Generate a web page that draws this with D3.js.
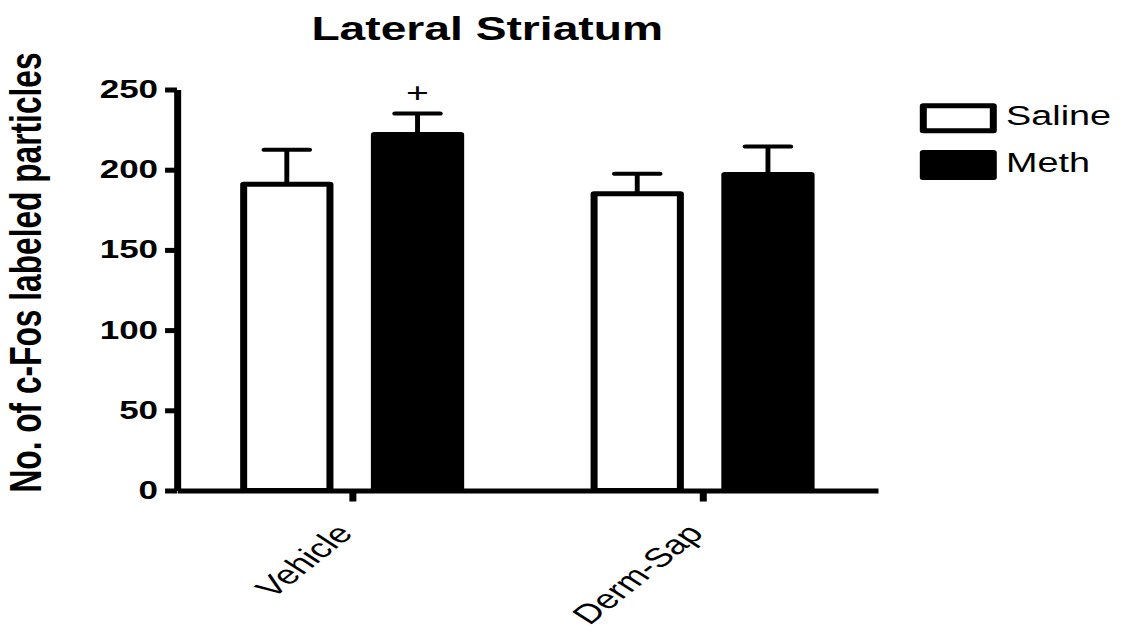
<!DOCTYPE html>
<html lang="en">
<head>
    <meta charset="UTF-8"/>
    <title>Lateral Striatum</title>
    <script src="https://d3js.org/d3.v7.min.js"></script>
    <style>
        body {
            margin: 0;
            background: #fff;
        }
        text {
            font-family: "Liberation Sans", Arial, sans-serif;
            fill: #000;
        }
        .axis path,
        .axis line {
            stroke: #000;
            stroke-width: 5px;
        }
    </style>
</head>
<body>
<div id="chart"></div>
<script>
    // data (mean and upper SEM)
    const groups = ["Vehicle", "Derm-Sap"];
    const series = ["Saline", "Meth"];
    const salineMean = [191, 185];
    const salineSem = [21.5, 12.5];
    const methMean = [222, 197];
    const methSem = [13, 17.5];
    const methMarks = ["+", ""];
    const yTicks = [0, 50, 100, 150, 200, 250];

    const fills = {Saline: "#fff", Meth: "#000"};

    // the original picture is stretched sideways, so draw in a narrower box and stretch it
    const W = 1124, H = 632, stretch = 1.4;
    const w = W / stretch;

    const svg = d3.select("#chart")
        .append("svg")
        .attr("width", W)
        .attr("height", H)
        .attr("viewBox", "0 0 " + w + " " + H)
        .attr("preserveAspectRatio", "none");

    const margin = {left: 126.4, right: 627, top: 89.5, bottom: 490.5};

    const x = d3.scalePoint()
        .domain(groups)
        .range([margin.left, margin.right])
        .padding(0.5);

    const xInner = d3.scaleBand()
        .domain(series)
        .range([-77.5, 77.5])
        .paddingInner(0.34);

    const y = d3.scaleLinear()
        .domain([0, 250])
        .range([margin.bottom, margin.top]);

    const rows = [];
    groups.forEach(function(g, i) {
        rows.push({group: g, series: "Saline", mean: salineMean[i], sem: salineSem[i], mark: ""});
        rows.push({group: g, series: "Meth", mean: methMean[i], sem: methSem[i], mark: methMarks[i]});
    });

    // error bars (upper only) under the bars
    const err = svg.append("g");
    rows.forEach(function(d) {
        const cx = x(d.group) + xInner(d.series) + xInner.bandwidth() / 2;
        err.append("line")
            .attr("x1", cx).attr("x2", cx)
            .attr("y1", y(d.mean)).attr("y2", y(d.mean + d.sem))
            .attr("stroke", "#000").attr("stroke-width", 3.5);
        err.append("line")
            .attr("x1", cx - 16).attr("x2", cx + 16)
            .attr("y1", y(d.mean + d.sem)).attr("y2", y(d.mean + d.sem))
            .attr("stroke", "#000").attr("stroke-width", 4)
            .attr("stroke-linecap", "round");
        if (d.mark) {
            svg.append("text")
                .attr("x", cx)
                .attr("y", y(d.mean + d.sem) - 12)
                .attr("text-anchor", "middle")
                .style("font-size", "28px")
                .text(d.mark);
        }
    });

    // bars
    svg.append("g")
        .selectAll("rect")
        .data(rows)
        .join("rect")
        .attr("x", function(d) { return x(d.group) + xInner(d.series); })
        .attr("y", function(d) { return y(d.mean); })
        .attr("width", xInner.bandwidth())
        .attr("height", function(d) { return y(0) - y(d.mean); })
        .attr("fill", function(d) { return fills[d.series]; })
        .attr("stroke", "#000")
        .attr("stroke-width", 5)
        .attr("stroke-linejoin", "round");

    // Y axis
    svg.append("g")
        .attr("class", "axis")
        .attr("transform", "translate(" + margin.left + ",0)")
        .call(d3.axisLeft(y).tickValues(yTicks).tickSize(8.5).tickSizeOuter(0).tickPadding(5))
        .call(function(g) {
            g.selectAll("text")
                .style("font-size", "25px")
                .style("font-weight", "bold");
        });

    // X axis
    svg.append("g")
        .attr("class", "axis")
        .attr("transform", "translate(0," + margin.bottom + ")")
        .call(d3.axisBottom(x).tickSize(11).tickSizeOuter(0))
        .call(function(g) {
            g.selectAll("text")
                .attr("x", 0).attr("y", 0).attr("dy", 0)
                .attr("text-anchor", "end")
                .attr("transform", "translate(1,44) rotate(-48)")
                .style("font-size", "27px");
        });

    // title
    svg.append("text")
        .attr("x", 348)
        .attr("y", 40)
        .attr("text-anchor", "middle")
        .style("font-size", "33px")
        .style("font-weight", "bold")
        .text("Lateral Striatum");

    // y label
    svg.append("text")
        .attr("transform", "translate(29,272.5) rotate(-90)")
        .attr("text-anchor", "middle")
        .style("font-size", "31.7px")
        .style("font-weight", "bold")
        .text("No. of c-Fos labeled particles");

    // legend
    const legend = svg.append("g");
    series.forEach(function(s, i) {
        const ly = 105.8 + i * 46.7;
        legend.append("rect")
            .attr("x", 659.5).attr("y", ly)
            .attr("width", 50).attr("height", 25)
            .attr("fill", fills[s])
            .attr("stroke", "#000")
            .attr("stroke-width", 5)
            .attr("stroke-linejoin", "round");
        legend.append("text")
            .attr("x", 718.6)
            .attr("y", ly + 19.5)
            .style("font-size", "27px")
            .text(s);
    });
</script>
</body>
</html>
